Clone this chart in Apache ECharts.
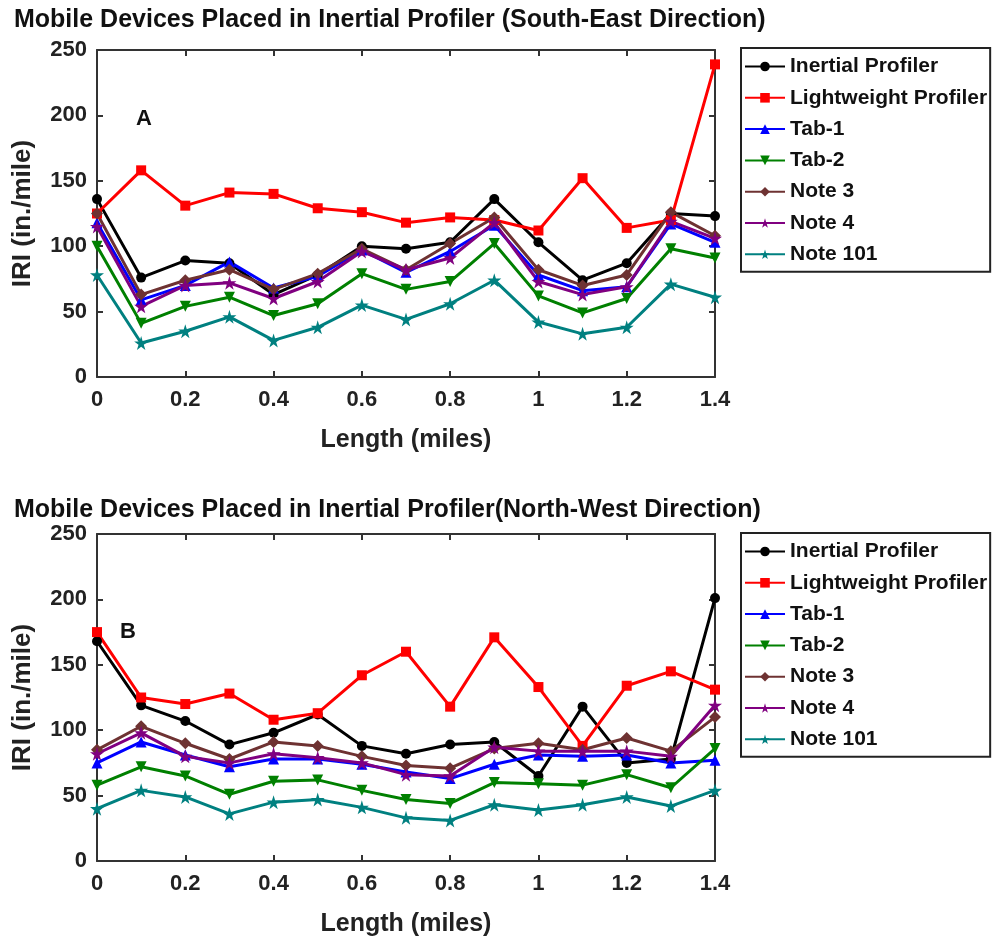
<!DOCTYPE html>
<html><head><meta charset="utf-8">
<script src="https://cdn.jsdelivr.net/npm/echarts@6/dist/echarts.min.js"></script>
<style>html,body{margin:0;padding:0;background:#fff}#c{width:992px;height:938px}</style>
</head><body><div id="c"></div>
<script>
const xVals = [0,0.1,0.2,0.3,0.4,0.5,0.6,0.7,0.8,0.9,1.0,1.1,1.2,1.3,1.4];
const seriesNames = ['Inertial Profiler','Lightweight Profiler','Tab-1','Tab-2','Note 3','Note 4','Note 101'];
const xTickLabels = ['0','0.2','0.4','0.6','0.8','1','1.2','1.4'];
const yTickLabels = ['0','50','100','150','200','250'];
const titleTop = 'Mobile Devices Placed in Inertial Profiler (South-East Direction)';
const titleBottom = 'Mobile Devices Placed in Inertial Profiler(North-West Direction)';

// Top chart (South-East)
const seInertial    = [136,76,89,87,63,78,100,98,103,136,103,74,87,125,123];
const seLightweight = [125,158,131,141,140,129,126,118,122,120,112,152,114,120,239];
const seTab1        = [118,59,70,88,68,77,97,80,96,116,78,66,69,117,103];
const seTab2        = [100,41,54,61,47,56,79,67,73,102,62,49,60,98,91];
const seNote3       = [125,63,74,82,67,79,98,82,102,122,82,70,78,126,108];
const seNote4       = [115,54,70,72,60,73,96,82,91,118,73,63,69,119,106];
const seNote101     = [78,26,35,46,28,38,55,44,56,74,42,33,38,71,61];

// Bottom chart (North-West)
const nwInertial    = [168,119,107,89,98,112,88,82,89,91,65,118,75,78,201];
const nwLightweight = [175,125,120,128,108,113,142,160,118,171,133,88,134,145,131];
const nwTab1        = [75,91,81,72,78,78,74,68,63,74,81,80,81,75,77];
const nwTab2        = [58,72,65,51,61,62,54,47,44,60,59,58,66,56,86];
const nwNote3       = [85,103,90,78,91,88,80,73,71,86,90,85,94,84,110];
const nwNote4       = [82,98,80,75,82,79,75,66,65,87,84,84,84,80,119];
const nwNote101     = [40,54,49,36,45,47,41,33,31,43,39,43,49,42,54];

const colors = ['#000000','#ff0000','#0000ff','#008000','#6e3232','#800080','#008080'];
const star = 'path://M50,0 L61,35 L98,35 L68,57 L79,91 L50,70 L21,91 L32,57 L2,35 L39,35 Z';
const downTri = 'path://M0,0 L100,0 L50,90 Z';
const symbols = ['circle','rect','triangle',downTri,'diamond', star, star];
const symSizes = [10,10,11,11,12,14,14];

const FONT = 'Liberation Sans';
const TXT = '#222';
const chart = echarts.init(document.getElementById('c'), null, {renderer:'canvas'});

const axLine = {onZero:false, lineStyle:{color:'#333', width:2}};
const axTick = {inside:true, length:6, lineStyle:{color:'#333', width:2}};

function xAxes(){
  const axes = [];
  [0,1].forEach(g=>{
    axes.push({
      type:'value', gridIndex:g, min:0, max:1.4, interval:0.2, position:'bottom',
      name:'Length (miles)', nameLocation:'middle', nameGap:51,
      nameTextStyle:{fontFamily:FONT, fontWeight:'bold', fontSize:25, color:TXT},
      axisLine:axLine, axisTick:axTick,
      axisLabel:{fontFamily:FONT, fontWeight:'bold', fontSize:22, color:TXT, margin:12,
        formatter:(v)=>xTickLabels[Math.round(v/0.2)]},
      splitLine:{show:false}
    });
    axes.push({
      type:'value', gridIndex:g, min:0, max:1.4, interval:0.2, position:'top',
      axisLine:axLine, axisTick:axTick,
      axisLabel:{show:false}, splitLine:{show:false}
    });
  });
  return axes;
}
function yAxes(){
  const axes = [];
  [0,1].forEach(g=>{
    axes.push({
      type:'value', gridIndex:g, min:0, max:250, interval:50, position:'left',
      name:'IRI (in./mile)', nameLocation:'middle', nameGap:61, nameRotate:90,
      nameTextStyle:{fontFamily:FONT, fontWeight:'bold', fontSize:26, color:TXT},
      axisLine:axLine, axisTick:axTick,
      axisLabel:{fontFamily:FONT, fontWeight:'bold', fontSize:22, color:TXT, margin:10,
        formatter:(v)=>yTickLabels[Math.round(v/50)]},
      splitLine:{show:false}
    });
    axes.push({
      type:'value', gridIndex:g, min:0, max:250, interval:50, position:'right',
      axisLine:axLine, axisTick:axTick,
      axisLabel:{show:false}, splitLine:{show:false}
    });
  });
  return axes;
}

const topData = [seInertial,seLightweight,seTab1,seTab2,seNote3,seNote4,seNote101];
const botData = [nwInertial,nwLightweight,nwTab1,nwTab2,nwNote3,nwNote4,nwNote101];

const series = [];
[topData, botData].forEach((set, g)=>{
  set.forEach((vals, i)=>{
    series.push({
      name: seriesNames[i], type:'line',
      xAxisIndex: g*2, yAxisIndex: g*2,
      data: vals.map((v,k)=>[xVals[k], v]),
      symbol: symbols[i], symbolSize: symSizes[i],
      showAllSymbol:true,
      lineStyle:{color:colors[i], width:3},
      itemStyle:{color:colors[i]},
      animation:false
    });
  });
});

function legendCfg(top){
  return {
    orient:'vertical', left:741, top:top,
    data: seriesNames,
    itemWidth:40, itemHeight:12, itemGap:10.3,
    padding:[8,3,7,3],
    borderColor:'#222', borderWidth:2,
    textStyle:{fontFamily:FONT, fontWeight:'bold', fontSize:21, color:'#111'},
    selectedMode:false
  };
}

chart.setOption({
  animation:false,
  color: colors,
  title:[
    {text:titleTop, left:9, top:3, textStyle:{fontFamily:FONT, fontWeight:'bold', fontSize:25, color:'#111'}},
    {text:titleBottom, left:9, top:493, textStyle:{fontFamily:FONT, fontWeight:'bold', fontSize:25, color:'#111'}}
  ],
  grid:[
    {left:97, top:50, width:618, height:327, show:false},
    {left:97, top:534, width:618, height:327, show:false}
  ],
  xAxis: xAxes(),
  yAxis: yAxes(),
  legend:[ legendCfg(48), legendCfg(533) ],
  graphic:[
    {type:'text', left:136, top:108, style:{text:'A', fontFamily:FONT, fontWeight:'bold', fontSize:22, fill:'#111'}},
    {type:'text', left:120, top:621, style:{text:'B', fontFamily:FONT, fontWeight:'bold', fontSize:22, fill:'#111'}}
  ],
  series: series
});
</script></body></html>
